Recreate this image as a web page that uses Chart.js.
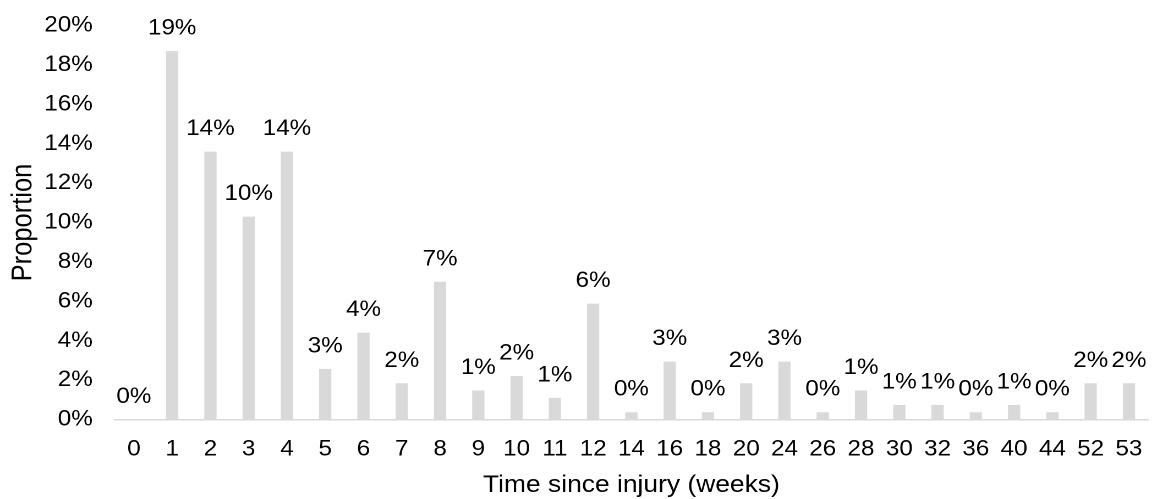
<!DOCTYPE html>
<html>
<head>
<meta charset="utf-8">
<script src="https://cdn.jsdelivr.net/npm/chart.js@4"></script>
<style>
    html, body { margin: 0; padding: 0; background: #fff; overflow: hidden; }
    /* the reference is stretched sideways, so the chart is drawn narrower and scaled out */
    #wrap { width: 1047px; height: 499px; transform: scaleX(1.10029); transform-origin: 0 0; }
</style>
</head>
<body>
<div id="wrap"><canvas id="injuryChart"></canvas></div>
<script>
// weeks since injury
const weeks = ['0', '1', '2', '3', '4', '5', '6', '7', '8', '9', '10', '11', '12', '14', '16',
    '18', '20', '24', '26', '28', '30', '32', '36', '40', '44', '52', '53'];
// proportion of cases (%)
const proportion = [0, 18.7, 13.6, 10.3, 13.6, 2.57, 4.41, 1.84, 6.99, 1.47, 2.21, 1.1, 5.88, 0.37, 2.94,
    0.37, 1.84, 2.94, 0.37, 1.47, 0.74, 0.74, 0.37, 0.74, 0.37, 1.84, 1.84];
const yTicks = [0, 2, 4, 6, 8, 10, 12, 14, 16, 18, 20];

const fontFamily = '"Liberation Sans", Arial, sans-serif';

// value labels above each bar
const barLabels = {
    id: 'barLabels',
    afterDatasetsDraw(chart) {
        const ctx = chart.ctx;
        const meta = chart.getDatasetMeta(0);
        ctx.save();
        ctx.font = '22px ' + fontFamily;
        ctx.fillStyle = '#000';
        ctx.textAlign = 'center';
        ctx.textBaseline = 'alphabetic';
        meta.data.forEach((bar, i) => {
            ctx.fillText(Math.round(proportion[i]) + '%', bar.x, bar.y - 16.5);
        });
        ctx.restore();
    }
};

const ctx = document.getElementById('injuryChart').getContext('2d');
new Chart(ctx, {
    type: 'bar',
    data: {
        labels: weeks,
        datasets: [{
            label: 'Proportion',
            data: proportion,
            backgroundColor: '#d9d9d9',
            barPercentage: 0.32,
            categoryPercentage: 1
        }]
    },
    options: {
        responsive: true,
        maintainAspectRatio: false,
        animation: false,
        devicePixelRatio: 2,
        layout: {
            padding: { top: 25.5, right: 3.6, left: 0, bottom: 0 }
        },
        plugins: {
            legend: { display: false },
            tooltip: { enabled: false }
        },
        scales: {
            x: {
                grid: { display: false },
                border: { display: true, color: '#d9d9d9', width: 1.5 },
                ticks: {
                    color: '#000',
                    padding: 8.5,
                    maxRotation: 0,
                    autoSkip: false,
                    font: { family: fontFamily, size: 22 }
                },
                title: {
                    display: true,
                    text: 'Time since injury (weeks)',
                    color: '#000',
                    padding: { top: 0, bottom: -1 },
                    font: { family: fontFamily, size: 24 }
                },
                afterFit(scale) { scale.height = 79.5; }
            },
            y: {
                min: 0,
                max: 20,
                grid: { display: false, drawTicks: false },
                border: { display: false },
                afterBuildTicks(scale) { scale.ticks = yTicks.map(v => ({ value: v })); },
                ticks: {
                    color: '#000',
                    padding: 20,
                    font: { family: fontFamily, size: 22 },
                    callback: v => v + '%'
                },
                title: {
                    display: true,
                    text: 'Proportion',
                    color: '#000',
                    padding: { top: 6, bottom: 0 },
                    font: { family: fontFamily, size: 25.5 }
                },
                afterFit(scale) {
                    scale.width = 104.3;
                    // tick padding would otherwise push the plot top down
                    scale.paddingTop = 0;
                    scale.paddingBottom = 0;
                }
            }
        }
    },
    plugins: [barLabels]
});
</script>
</body>
</html>
